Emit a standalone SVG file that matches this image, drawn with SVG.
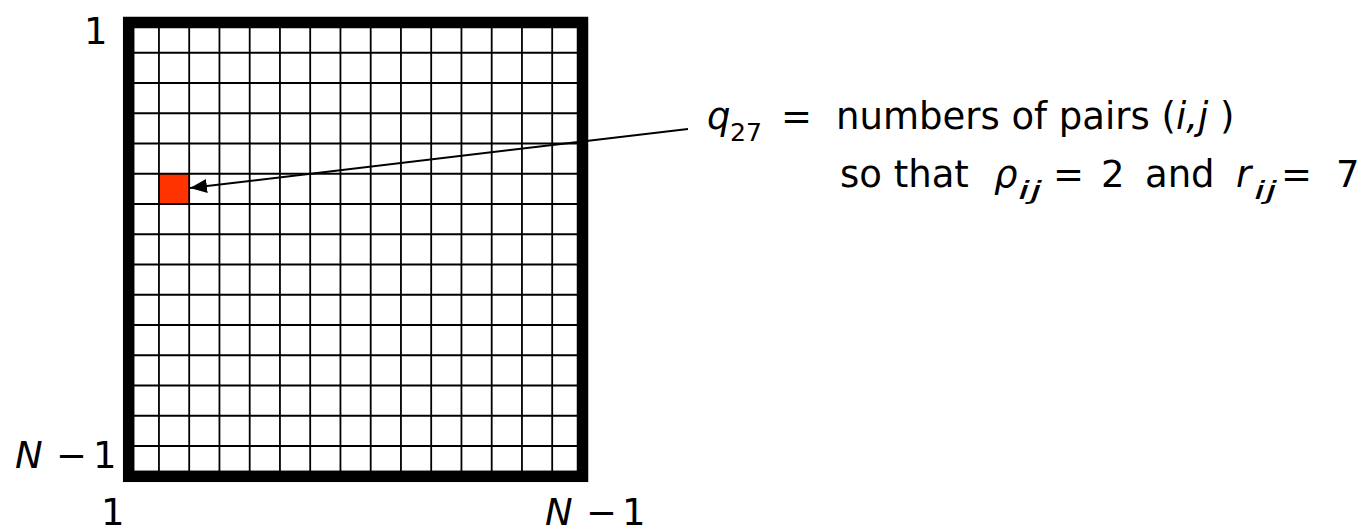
<svg xmlns="http://www.w3.org/2000/svg" width="1362" height="529" viewBox="0 0 1362 529">
<defs>
<style>
.t{font-family:"DejaVu Sans","Liberation Sans",sans-serif;font-size:37px;fill:#000}
.i{font-style:italic}
.s{font-size:24px}
.g{stroke:#000;stroke-width:1.8;fill:none}
</style>
<marker id="ah" markerUnits="userSpaceOnUse" markerWidth="20" markerHeight="16" refX="17" refY="7" orient="auto">
<polygon points="0,0 17,7 0,14" fill="#000"/>
</marker>
</defs>
<g id="grid">
<rect x="128.7" y="22.5" width="453.8" height="453.8" fill="#fff"/>
<rect id="cell-q27" x="158.95" y="173.75" width="30.25" height="30.25" fill="#ff3300"/>
<path class="g" d="M158.95 22.5V476.3M189.2 22.5V476.3M219.45 22.5V476.3M249.7 22.5V476.3M279.95 22.5V476.3M310.2 22.5V476.3M340.45 22.5V476.3M370.7 22.5V476.3M400.95 22.5V476.3M431.2 22.5V476.3M461.45 22.5V476.3M491.7 22.5V476.3M521.95 22.5V476.3M552.2 22.5V476.3M128.7 52.75H582.5M128.7 83H582.5M128.7 113.25H582.5M128.7 143.5H582.5M128.7 173.75H582.5M128.7 204H582.5M128.7 234.25H582.5M128.7 264.5H582.5M128.7 294.75H582.5M128.7 325H582.5M128.7 355.25H582.5M128.7 385.5H582.5M128.7 415.75H582.5M128.7 446H582.5"/>
<rect x="128.7" y="22.5" width="453.8" height="453.8" fill="none" stroke="#000" stroke-width="11.5"/>
</g>
<g id="axis-labels">
<text class="t" x="84" y="44">1</text>
<text class="t" x="15" y="468"><tspan class="i">N</tspan><tspan x="56">−</tspan><tspan x="93">1</tspan></text>
<text class="t" x="101" y="525">1</text>
<text class="t" x="545" y="525"><tspan class="i">N</tspan><tspan x="586">−</tspan><tspan x="622">1</tspan></text>
</g>
<g id="connectors">
<line x1="688" y1="129" x2="190" y2="188" stroke="#000" stroke-width="2" marker-end="url(#ah)"/>
</g>
<g id="annotation">
<text class="t i" x="707" y="129">q</text>
<text class="t s" x="730" y="141" textLength="32" lengthAdjust="spacingAndGlyphs">27</text>
<text class="t" x="781" y="129">=</text>
<text class="t" x="836" y="129">numbers of pairs (<tspan class="i">i,j</tspan> )</text>
<text class="t" x="840" y="186.5">so that</text>
<text class="t i" x="994" y="186.5">ρ</text>
<text class="t s i" x="1018" y="199" textLength="24" lengthAdjust="spacingAndGlyphs">ij</text>
<text class="t" x="1053" y="186.5">=</text>
<text class="t" x="1101" y="186.5">2</text>
<text class="t" x="1145" y="186.5">and</text>
<text class="t i" x="1236" y="186.5">r</text>
<text class="t s i" x="1254" y="199" textLength="23" lengthAdjust="spacingAndGlyphs">ij</text>
<text class="t" x="1281" y="186.5">=</text>
<text class="t" x="1336" y="186.5">7</text>
</g>
</svg>
